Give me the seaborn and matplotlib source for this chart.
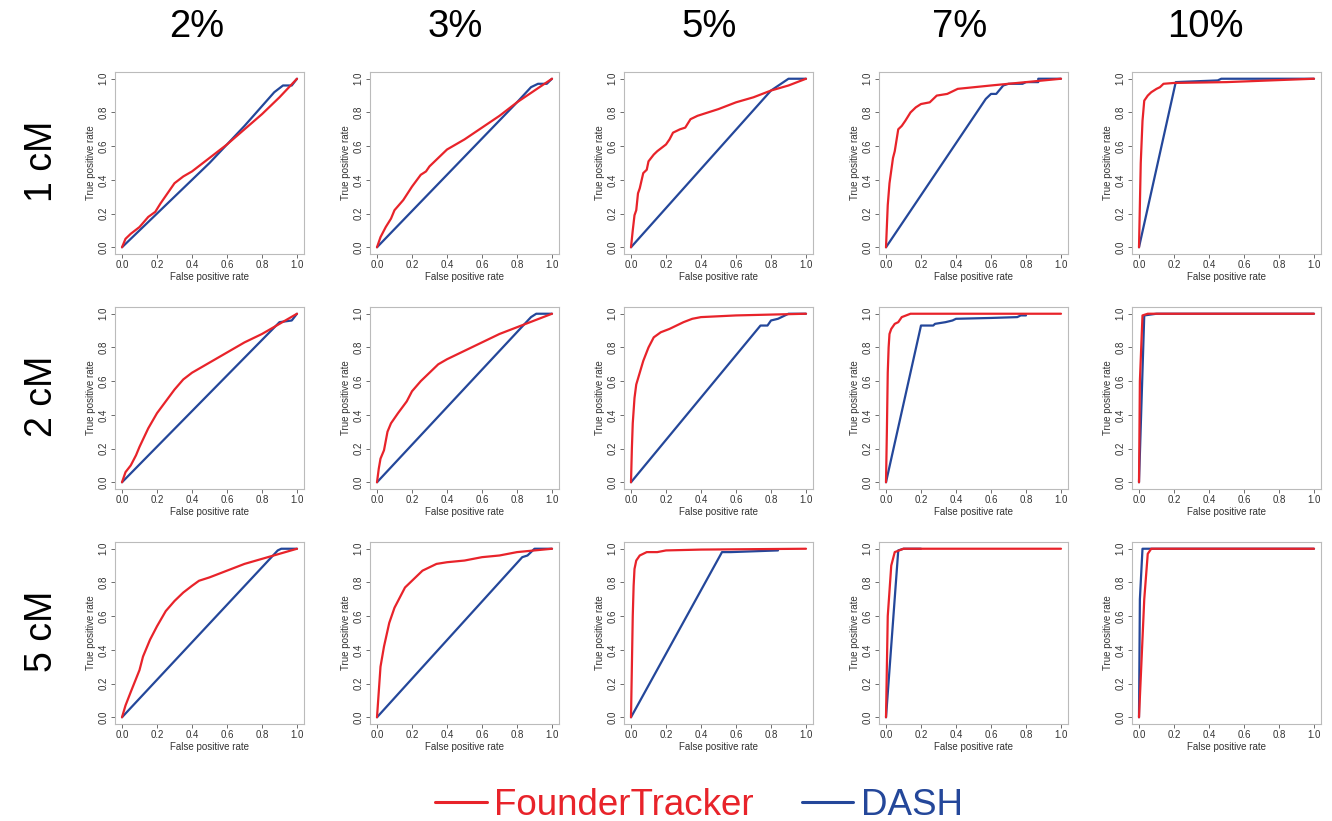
import pandas as pd
import numpy as np
import matplotlib
matplotlib.use("Agg")
import matplotlib.pyplot as plt
import seaborn as sns

### ROC curves, FounderTracker vs DASH
### rows = segment length, columns = error rate

col_titles = ["2%", "3%", "5%", "7%", "10%"]
row_titles = ["1 cM", "2 cM", "5 cM"]

# ---- 1 cM ----
ft_1cm_2_fpr = [0, 0.02, 0.05, 0.10, 0.15, 0.19, 0.22, 0.26, 0.30, 0.35, 0.40, 0.50, 0.60, 0.70, 0.80, 0.90, 1.0]
ft_1cm_2_tpr = [0, 0.05, 0.08, 0.12, 0.18, 0.21, 0.26, 0.32, 0.38, 0.42, 0.45, 0.53, 0.61, 0.70, 0.79, 0.89, 1.0]
da_1cm_2_fpr = [0, 0.50, 0.70, 0.87, 0.92, 0.97, 1.0]
da_1cm_2_tpr = [0, 0.50, 0.72, 0.92, 0.96, 0.96, 1.0]

ft_1cm_3_fpr = [0, 0.02, 0.05, 0.08, 0.10, 0.15, 0.20, 0.25, 0.28, 0.30, 0.35, 0.40, 0.50, 0.60, 0.70, 0.80, 0.90, 1.0]
ft_1cm_3_tpr = [0, 0.06, 0.12, 0.17, 0.22, 0.28, 0.36, 0.43, 0.45, 0.48, 0.53, 0.58, 0.64, 0.71, 0.78, 0.86, 0.93, 1.0]
da_1cm_3_fpr = [0, 0.80, 0.88, 0.92, 0.97, 1.0]
da_1cm_3_tpr = [0, 0.86, 0.95, 0.97, 0.97, 1.0]

ft_1cm_5_fpr = [0, 0.01, 0.02, 0.03, 0.04, 0.05, 0.07, 0.09, 0.10, 0.13, 0.15, 0.20, 0.22, 0.24, 0.28, 0.31, 0.34, 0.38, 0.50, 0.60, 0.70, 0.80, 0.90, 1.0]
ft_1cm_5_tpr = [0, 0.10, 0.19, 0.22, 0.32, 0.35, 0.44, 0.46, 0.51, 0.55, 0.57, 0.61, 0.64, 0.68, 0.70, 0.71, 0.76, 0.78, 0.82, 0.86, 0.89, 0.93, 0.96, 1.0]
da_1cm_5_fpr = [0, 0.80, 0.90, 1.0]
da_1cm_5_tpr = [0, 0.93, 1.00, 1.0]

ft_1cm_7_fpr = [0, 0.01, 0.02, 0.04, 0.05, 0.07, 0.09, 0.11, 0.14, 0.17, 0.20, 0.25, 0.29, 0.35, 0.41, 0.60, 0.80, 1.0]
ft_1cm_7_tpr = [0, 0.25, 0.38, 0.53, 0.57, 0.70, 0.72, 0.75, 0.80, 0.83, 0.85, 0.86, 0.90, 0.91, 0.94, 0.96, 0.98, 1.0]
da_1cm_7_fpr = [0, 0.57, 0.60, 0.63, 0.67, 0.70, 0.78, 0.80, 0.87, 0.87, 1.0]
da_1cm_7_tpr = [0, 0.88, 0.91, 0.91, 0.96, 0.97, 0.97, 0.98, 0.98, 1.00, 1.0]

ft_1cm_10_fpr = [0, 0.01, 0.02, 0.03, 0.05, 0.07, 0.10, 0.12, 0.14, 0.20, 0.50, 1.0]
ft_1cm_10_tpr = [0, 0.50, 0.75, 0.87, 0.90, 0.92, 0.94, 0.95, 0.97, 0.975, 0.98, 1.0]
da_1cm_10_fpr = [0, 0.21, 0.45, 0.47, 1.0]
da_1cm_10_tpr = [0, 0.98, 0.99, 1.00, 1.0]

# ---- 2 cM ----
ft_2cm_2_fpr = [0, 0.02, 0.05, 0.08, 0.10, 0.15, 0.20, 0.25, 0.30, 0.35, 0.40, 0.50, 0.60, 0.70, 0.80, 0.90, 1.0]
ft_2cm_2_tpr = [0, 0.06, 0.10, 0.16, 0.21, 0.32, 0.41, 0.48, 0.55, 0.61, 0.65, 0.71, 0.77, 0.83, 0.88, 0.94, 1.0]
da_2cm_2_fpr = [0, 0.90, 0.97, 1.0]
da_2cm_2_tpr = [0, 0.95, 0.96, 1.0]

ft_2cm_3_fpr = [0, 0.01, 0.02, 0.04, 0.06, 0.08, 0.12, 0.17, 0.20, 0.25, 0.30, 0.35, 0.40, 0.50, 0.60, 0.70, 0.80, 0.90, 1.0]
ft_2cm_3_tpr = [0, 0.08, 0.14, 0.19, 0.30, 0.35, 0.41, 0.48, 0.54, 0.60, 0.65, 0.70, 0.73, 0.78, 0.83, 0.88, 0.92, 0.96, 1.0]
da_2cm_3_fpr = [0, 0.88, 0.91, 1.0]
da_2cm_3_tpr = [0, 0.98, 1.00, 1.0]

ft_2cm_5_fpr = [0, 0.005, 0.01, 0.02, 0.03, 0.05, 0.07, 0.10, 0.13, 0.17, 0.22, 0.30, 0.35, 0.40, 0.60, 1.0]
ft_2cm_5_tpr = [0, 0.20, 0.35, 0.50, 0.58, 0.65, 0.72, 0.80, 0.86, 0.89, 0.91, 0.95, 0.97, 0.98, 0.99, 1.0]
da_2cm_5_fpr = [0, 0.74, 0.78, 0.80, 0.84, 0.86, 0.90, 1.0]
da_2cm_5_tpr = [0, 0.93, 0.93, 0.96, 0.97, 0.98, 1.00, 1.0]

ft_2cm_7_fpr = [0, 0.005, 0.01, 0.015, 0.02, 0.03, 0.05, 0.07, 0.09, 0.14, 1.0]
ft_2cm_7_tpr = [0, 0.30, 0.65, 0.80, 0.88, 0.91, 0.94, 0.95, 0.98, 1.00, 1.0]
da_2cm_7_fpr = [0, 0.20, 0.27, 0.28, 0.34, 0.38, 0.40, 0.60, 0.75, 0.77, 0.80]
da_2cm_7_tpr = [0, 0.93, 0.93, 0.94, 0.95, 0.96, 0.97, 0.975, 0.98, 0.99, 0.99]

ft_2cm_10_fpr = [0, 0.005, 0.02, 0.05, 1.0]
ft_2cm_10_tpr = [0, 0.60, 0.99, 1.00, 1.0]
da_2cm_10_fpr = [0, 0.03, 0.10, 1.0]
da_2cm_10_tpr = [0, 0.99, 1.00, 1.0]

# ---- 5 cM ----
ft_5cm_2_fpr = [0, 0.02, 0.05, 0.10, 0.12, 0.16, 0.20, 0.25, 0.30, 0.35, 0.40, 0.44, 0.50, 0.60, 0.70, 0.80, 0.90, 1.0]
ft_5cm_2_tpr = [0, 0.07, 0.15, 0.28, 0.36, 0.46, 0.54, 0.63, 0.69, 0.74, 0.78, 0.81, 0.83, 0.87, 0.91, 0.94, 0.97, 1.0]
da_5cm_2_fpr = [0, 0.89, 0.91, 1.0]
da_5cm_2_tpr = [0, 0.99, 1.00, 1.0]

ft_5cm_3_fpr = [0, 0.01, 0.02, 0.04, 0.07, 0.10, 0.13, 0.16, 0.20, 0.26, 0.34, 0.40, 0.50, 0.60, 0.70, 0.80, 0.90, 1.0]
ft_5cm_3_tpr = [0, 0.15, 0.30, 0.42, 0.56, 0.65, 0.71, 0.77, 0.81, 0.87, 0.91, 0.92, 0.93, 0.95, 0.96, 0.98, 0.99, 1.0]
da_5cm_3_fpr = [0, 0.83, 0.86, 0.90, 1.0]
da_5cm_3_tpr = [0, 0.95, 0.96, 1.00, 1.0]

ft_5cm_5_fpr = [0, 0.005, 0.01, 0.015, 0.02, 0.03, 0.05, 0.07, 0.09, 0.15, 0.20, 0.40, 1.0]
ft_5cm_5_tpr = [0, 0.30, 0.60, 0.78, 0.88, 0.93, 0.96, 0.97, 0.98, 0.98, 0.99, 0.995, 1.0]
da_5cm_5_fpr = [0, 0.52, 0.57, 0.84]
da_5cm_5_tpr = [0, 0.98, 0.98, 0.99]

ft_5cm_7_fpr = [0, 0.01, 0.03, 0.05, 0.10, 1.0]
ft_5cm_7_tpr = [0, 0.60, 0.90, 0.98, 1.00, 1.0]
da_5cm_7_fpr = [0, 0.07, 0.10, 0.20]
da_5cm_7_tpr = [0, 0.99, 1.00, 1.00]

ft_5cm_10_fpr = [0, 0.03, 0.05, 0.07, 1.0]
ft_5cm_10_tpr = [0, 0.70, 0.97, 1.00, 1.0]
da_5cm_10_fpr = [0, 0.005, 0.02, 0.10, 1.0]
da_5cm_10_tpr = [0, 0.70, 1.00, 1.00, 1.0]

panels = [
    [(ft_1cm_2_fpr, ft_1cm_2_tpr, da_1cm_2_fpr, da_1cm_2_tpr),
     (ft_1cm_3_fpr, ft_1cm_3_tpr, da_1cm_3_fpr, da_1cm_3_tpr),
     (ft_1cm_5_fpr, ft_1cm_5_tpr, da_1cm_5_fpr, da_1cm_5_tpr),
     (ft_1cm_7_fpr, ft_1cm_7_tpr, da_1cm_7_fpr, da_1cm_7_tpr),
     (ft_1cm_10_fpr, ft_1cm_10_tpr, da_1cm_10_fpr, da_1cm_10_tpr)],
    [(ft_2cm_2_fpr, ft_2cm_2_tpr, da_2cm_2_fpr, da_2cm_2_tpr),
     (ft_2cm_3_fpr, ft_2cm_3_tpr, da_2cm_3_fpr, da_2cm_3_tpr),
     (ft_2cm_5_fpr, ft_2cm_5_tpr, da_2cm_5_fpr, da_2cm_5_tpr),
     (ft_2cm_7_fpr, ft_2cm_7_tpr, da_2cm_7_fpr, da_2cm_7_tpr),
     (ft_2cm_10_fpr, ft_2cm_10_tpr, da_2cm_10_fpr, da_2cm_10_tpr)],
    [(ft_5cm_2_fpr, ft_5cm_2_tpr, da_5cm_2_fpr, da_5cm_2_tpr),
     (ft_5cm_3_fpr, ft_5cm_3_tpr, da_5cm_3_fpr, da_5cm_3_tpr),
     (ft_5cm_5_fpr, ft_5cm_5_tpr, da_5cm_5_fpr, da_5cm_5_tpr),
     (ft_5cm_7_fpr, ft_5cm_7_tpr, da_5cm_7_fpr, da_5cm_7_tpr),
     (ft_5cm_10_fpr, ft_5cm_10_tpr, da_5cm_10_fpr, da_5cm_10_tpr)],
]

RED = "#E8232A"
BLUE = "#24479A"

sns.set_style("white")
plt.rcParams["font.family"] = ["Liberation Sans", "DejaVu Sans"]

W, H = 1332, 821
fig = plt.figure(figsize=(W / 100, H / 100), dpi=100)

col_left = [115, 370, 624, 879, 1132]
row_top = [72, 307, 542]
pw, ph = 189, 182
title_x = [197, 455, 709, 960, 1205]

ticks = [0, 0.2, 0.4, 0.6, 0.8, 1.0]
tick_lbl = ["0.0", "0.2", "0.4", "0.6", "0.8", "1.0"]

for r in range(3):
    for c in range(5):
        ax = fig.add_axes([col_left[c] / W, 1 - (row_top[r] + ph) / H, pw / W, ph / H])
        fx, fy, dx, dy = panels[r][c]
        sns.lineplot(x=dx, y=dy, sort=False, estimator=None, color=BLUE, lw=1.6, ax=ax)
        sns.lineplot(x=fx, y=fy, sort=False, estimator=None, color=RED, lw=1.6, ax=ax)
        ax.set_xlim(-0.04, 1.04)
        ax.set_ylim(-0.04, 1.04)
        ax.set_xticks(ticks)
        ax.set_xticklabels(tick_lbl)
        ax.set_yticks(ticks)
        ax.set_yticklabels(tick_lbl, rotation=90, va="center")
        ax.tick_params(axis="both", direction="out", length=3, width=0.6, color="#555555",
                       labelsize=7, labelcolor="#333333", pad=1.5, bottom=True, left=True)
        for s in ax.spines.values():
            s.set_color("#bbbbbb")
            s.set_linewidth(0.8)
        ax.set_xlabel("False positive rate", fontsize=7, color="#333333", labelpad=1)
        ax.set_ylabel("True positive rate", fontsize=7, color="#333333", labelpad=2)

for c in range(5):
    fig.text(title_x[c] / W, 1 - 27 / H, col_titles[c], fontsize=27.5, color="black",
             ha="center", va="center")
for r in range(3):
    fig.text(42 / W, 1 - (row_top[r] + ph / 2 - 2) / H, row_titles[r], fontsize=27,
             color="black", rotation=90, ha="center", va="center")

# legend at the bottom
h_ft = plt.Line2D([], [], color=RED, lw=2.2)
h_da = plt.Line2D([], [], color=BLUE, lw=2.2)
leg = fig.legend([h_ft, h_da], ["FounderTracker", "DASH"], loc="center",
                 bbox_to_anchor=(699 / W, 1 - 805 / H), ncol=2, frameon=False,
                 fontsize=26.5, handlelength=1.4, handletextpad=0.2, columnspacing=1.3)
leg.get_texts()[0].set_color(RED)
leg.get_texts()[1].set_color(BLUE)

fig.savefig("out.png", dpi=100)
